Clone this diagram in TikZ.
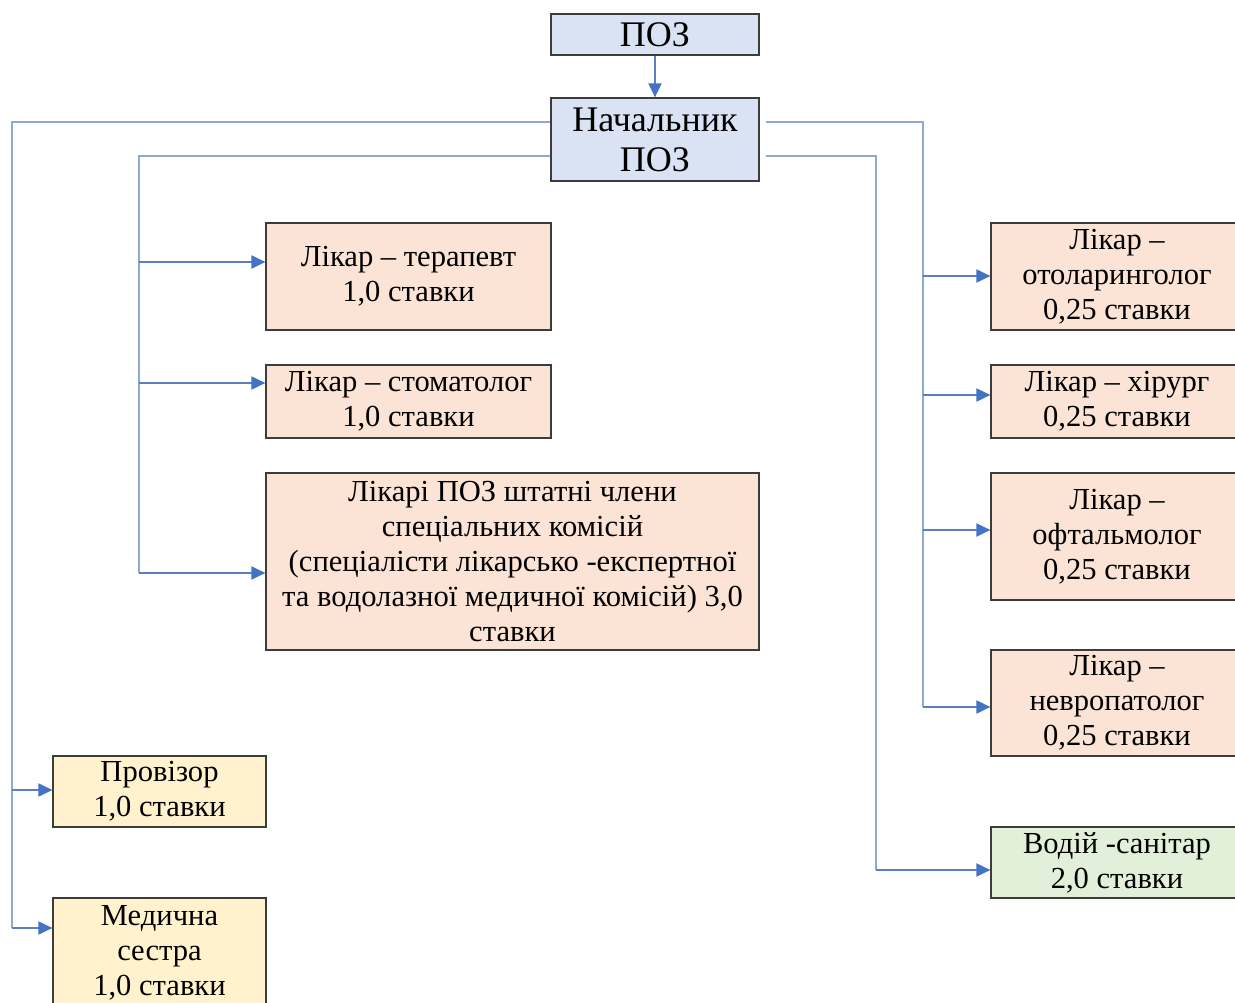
\documentclass[tikz,border=0pt]{standalone}
\usepackage{fontspec}
\setmainfont{Liberation Serif}
\usetikzlibrary{arrows.meta}

\definecolor{headfill}{RGB}{218,227,243}
\definecolor{docfill}{RGB}{251,227,213}
\definecolor{pharmfill}{RGB}{255,242,204}
\definecolor{drvfill}{RGB}{226,240,217}
\definecolor{linkblue}{RGB}{143,168,212}
\definecolor{arrblue}{RGB}{92,126,192}
\definecolor{tipblue}{RGB}{68,114,196}
\definecolor{boxline}{RGB}{60,60,60}

\tikzset{
	box/.style={draw=boxline, line width=0.7pt, align=center, inner sep=0pt, font=\fontsize{17.4}{19.9}\selectfont},
	head/.style={box, fill=headfill, font=\fontsize{20.5}{22.7}\selectfont},
	doc/.style={box, fill=docfill},
	pharm/.style={box, fill=pharmfill},
	drv/.style={box, fill=drvfill},
	link/.style={draw=linkblue, line width=1.1pt},
	arr/.style={draw=arrblue, line width=1.1pt, -{Triangle[length=0.28cm, width=0.26cm, color=tipblue]}},
}

\begin{document}
\begin{tikzpicture}[x=0.02cm, y=-0.02cm]
%	helplines
%	\draw[thin] (0,0) grid[step=50] (1235,1003);
	\path[use as bounding box, clip] (0,0) rectangle (1235,1003);

	\node (poz)[head, minimum width=4.16cm, minimum height=0.82cm] at (655,34.5) {ПОЗ};
	\node (nach)[head, minimum width=4.16cm, minimum height=1.66cm] at (655,139.5) {Начальник\\ПОЗ};

	\node (terapevt)[doc, minimum width=5.7cm, minimum height=2.14cm] at (408.5,276.5) {Лікар – терапевт\\1,0 ставки};
	\node (stomatolog)[doc, minimum width=5.7cm, minimum height=1.46cm] at (408.5,401.5) {Лікар – стоматолог\\1,0 ставки};
	\node (komisii)[doc, minimum width=9.86cm, minimum height=3.54cm] at (512.5,561.5) {Лікарі ПОЗ штатні члени\\спеціальних комісій\\(спеціалісти лікарсько -експертної\\та водолазної медичної комісій) 3,0\\ставки};

	\node (otolar)[doc, minimum width=5.04cm, minimum height=2.14cm] at (1117,276.5) {Лікар –\\отоларинголог\\0,25 ставки};
	\node (khirurg)[doc, minimum width=5.04cm, minimum height=1.46cm] at (1117,401.5) {Лікар – хірург\\0,25 ставки};
	\node (oftalm)[doc, minimum width=5.04cm, minimum height=2.54cm] at (1117,536.5) {Лікар –\\офтальмолог\\0,25 ставки};
	\node (nevropat)[doc, minimum width=5.04cm, minimum height=2.12cm] at (1117,703) {Лікар –\\невропатолог\\0,25 ставки};
	\node (vodii)[drv, minimum width=5.04cm, minimum height=1.42cm] at (1117,862.5) {Водій -санітар\\2,0 ставки};

	\node (provizor)[pharm, minimum width=4.26cm, minimum height=1.42cm] at (159.5,791.5) {Провізор\\1,0 ставки};
	\node (sestra)[pharm, minimum width=4.26cm, minimum height=2.2cm] at (159.5,953) {Медична\\сестра\\1,0 ставки};

	% trunk corners and branch points
	\coordinate (lout) at (12,122);
	\coordinate (lin) at (139,156);
	\coordinate (rout) at (923,122);
	\coordinate (rin) at (876,156);

	\coordinate (pv) at (12,790);
	\coordinate (ms) at (12,928);
	\coordinate (tp) at (139,262);
	\coordinate (st) at (139,383);
	\coordinate (km) at (139,573);
	\coordinate (ot) at (923,276);
	\coordinate (kh) at (923,395);
	\coordinate (of) at (923,530);
	\coordinate (nv) at (923,707);
	\coordinate (vd) at (876,870);

	\draw[arr] (poz) -- (nach);

	\draw[link] (nach.west |- lout) -| (ms);
	\draw[link] (nach.west |- lin) -| (km);
	\draw[link, shorten <=0.12cm] (nach.east |- rout) -| (nv);
	\draw[link, shorten <=0.12cm] (nach.east |- rin) -| (vd);

	\draw[arr] (pv) -- (pv -| provizor.west);
	\draw[arr] (ms) -- (ms -| sestra.west);
	\draw[arr] (tp) -- (tp -| terapevt.west);
	\draw[arr] (st) -- (st -| stomatolog.west);
	\draw[arr] (km) -- (km -| komisii.west);
	\draw[arr] (ot) -- (ot -| otolar.west);
	\draw[arr] (kh) -- (kh -| khirurg.west);
	\draw[arr] (of) -- (of -| oftalm.west);
	\draw[arr] (nv) -- (nv -| nevropat.west);
	\draw[arr] (vd) -- (vd -| vodii.west);

\end{tikzpicture}
\end{document}
